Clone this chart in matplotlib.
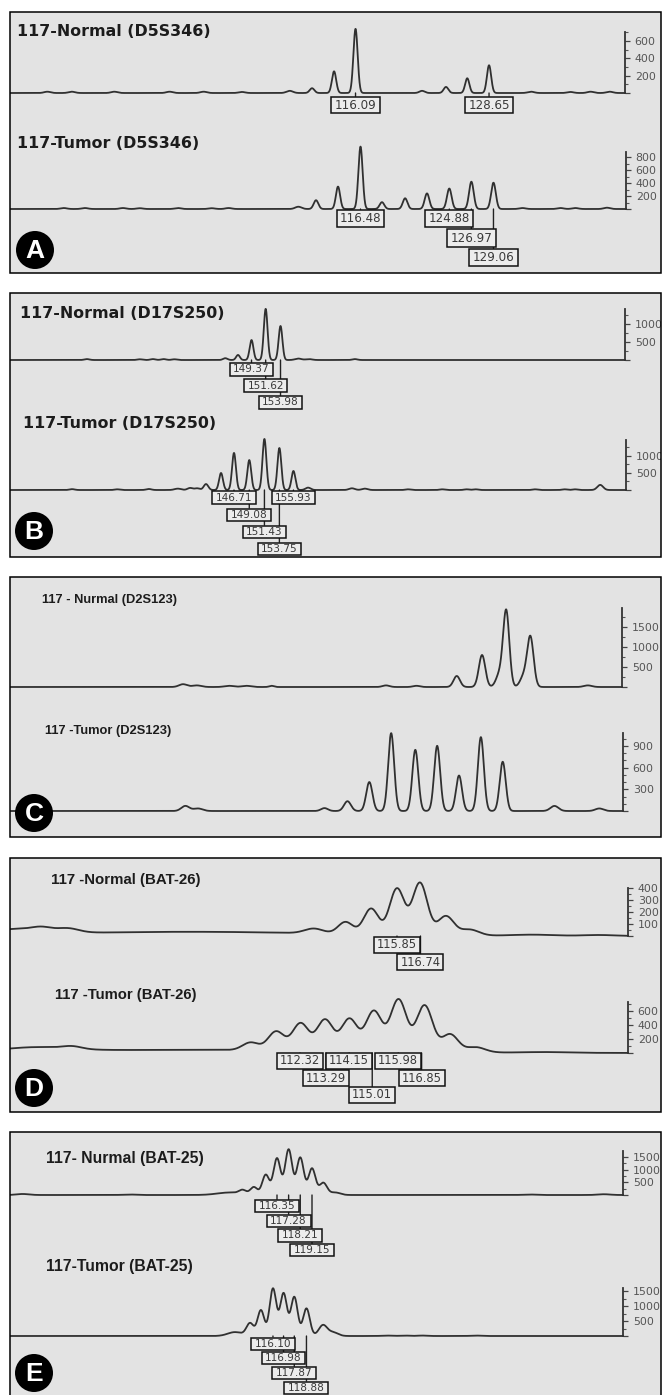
import numpy as np
import matplotlib
matplotlib.use("Agg")
import matplotlib.pyplot as plt
from matplotlib.patches import Rectangle, Ellipse
from matplotlib.ticker import MultipleLocator, FuncFormatter

# ======================= DATA =======================
# Panel A - D5S346 (size in bp, height in RFU, peak width in bp)
A_N_BP  = [87.1, 89.4, 93.4, 98.6, 101.8, 105.4, 109.9, 112.0, 114.07, 116.09, 122.35, 124.6, 126.6, 128.65, 132.6, 136.3, 138.2, 140.0]
A_N_RFU = [15, 15, 15, 15, 15, 12, 25, 55, 250, 740, 25, 70, 170, 320, 15, 12, 15, 15]
A_N_WID = [0.3, 0.3, 0.3, 0.3, 0.3, 0.3, 0.3, 0.22, 0.2, 0.2, 0.25, 0.22, 0.2, 0.2, 0.3, 0.3, 0.3, 0.3]
A_N_LABELS = ["116.09", "128.65"]
A_N_ROWS = [0, 0]

A_T_BP  = [88.4, 90.4, 94.0, 95.6, 99.2, 102.4, 104.0, 110.6, 112.27, 114.35, 116.48, 118.51, 120.7, 122.77, 124.88, 126.97, 129.06, 131.8, 135.4, 136.8, 139.8]
A_T_RFU = [15, 15, 15, 12, 15, 12, 15, 35, 135, 345, 960, 105, 165, 240, 315, 420, 405, 15, 15, 15, 20]
A_T_WID = [0.3, 0.3, 0.3, 0.3, 0.3, 0.3, 0.3, 0.3, 0.22, 0.2, 0.2, 0.22, 0.22, 0.22, 0.22, 0.22, 0.22, 0.3, 0.3, 0.3, 0.3]
A_T_LABELS = ["116.48", "124.88", "126.97", "129.06"]
A_T_ROWS = [0, 0, 1, 2]

# Panel B - D17S250
B_N_BP  = [123.2, 131.6, 133.7, 135.4, 137.1, 145.2, 147.22, 149.37, 151.62, 153.98, 156.8, 158.5, 165.8]
B_N_RFU = [25, 20, 25, 25, 20, 50, 140, 555, 1420, 945, 40, 25, 25]
B_N_WID = [0.4, 0.4, 0.4, 0.4, 0.4, 0.35, 0.3, 0.3, 0.3, 0.3, 0.5, 0.5, 0.4]
B_N_LABELS = ["149.37", "151.62", "153.98"]
B_N_ROWS = [0, 1, 2]

B_T_BP  = [121.6, 128.6, 133.5, 138.0, 139.9, 141.0, 142.37, 144.7, 146.71, 149.08, 151.43, 153.75, 155.93, 158.2, 165.0, 167.0, 173.7, 179.0, 182.8, 184.2, 193.4, 198.0, 199.6, 203.5]
B_T_RFU = [25, 20, 30, 40, 60, 50, 175, 500, 1090, 880, 1500, 1235, 560, 70, 50, 40, 20, 20, 20, 20, 20, 20, 20, 150]
B_T_WID = [0.4, 0.4, 0.4, 0.5, 0.4, 0.4, 0.35, 0.3, 0.3, 0.3, 0.3, 0.3, 0.3, 0.4, 0.45, 0.45, 0.4, 0.4, 0.4, 0.4, 0.4, 0.4, 0.4, 0.45]
B_T_LABELS = ["146.71", "155.93", "149.08", "151.43", "153.75"]
B_T_ROWS = [0, 0, 1, 2, 3]

# Panel C - D2S123 (no size labels)
C_N_BP  = [184.0, 185.2, 188.0, 189.5, 191.7, 201.65, 204.3, 207.8, 210.0, 211.5, 212.1, 213.6, 214.2, 219.2]
C_N_RFU = [70, 40, 30, 30, 30, 40, 30, 275, 800, 300, 1900, 250, 1250, 40]
C_N_WID = [0.35, 0.4, 0.4, 0.4, 0.2, 0.3, 0.3, 0.28, 0.28, 0.3, 0.27, 0.3, 0.28, 0.35]

C_T_BP  = [184.2, 185.3, 196.3, 198.3, 200.2, 202.1, 204.2, 206.1, 208.0, 209.9, 211.8, 216.3, 220.2]
C_T_RFU = [70, 35, 40, 135, 400, 1075, 845, 900, 490, 1020, 680, 70, 35]
C_T_WID = [0.35, 0.4, 0.3, 0.3, 0.27, 0.26, 0.26, 0.26, 0.26, 0.26, 0.26, 0.35, 0.35]

# Panel D - BAT-26
D_N_BP  = [101.5, 102.4, 103.4, 108.0, 112.7, 113.9, 114.87, 115.85, 116.72, 117.7, 118.6, 121.0, 123.5]
D_N_RFU = [45, 25, 30, 35, 40, 100, 215, 385, 435, 160, 50, 10, 8]
D_N_WID = [1.2, 0.35, 0.4, 5.0, 0.35, 0.28, 0.28, 0.28, 0.28, 0.3, 0.35, 0.8, 0.6]
D_N_LABELS = ["115.85", "116.74"]
D_N_ROWS = [0, 1]

D_T_BP  = [102.5, 103.83, 108.0, 110.48, 111.43, 112.34, 113.25, 114.16, 115.07, 115.99, 116.96, 117.91, 118.86, 121.5]
D_T_RFU = [55, 35, 45, 110, 270, 390, 445, 460, 575, 745, 665, 255, 75, 10]
D_T_WID = [1.2, 0.35, 6.0, 0.3, 0.3, 0.3, 0.3, 0.3, 0.3, 0.3, 0.3, 0.3, 0.35, 0.8]
D_T_LABELS = ["112.32", "114.15", "115.98", "113.29", "116.85", "115.01"]
D_T_ROWS = [0, 0, 0, 1, 1, 2]

# Panel E - BAT-25
E_N_BP  = [96.0, 104.5, 112.6, 113.6, 114.5, 115.45, 116.35, 117.28, 118.21, 119.15, 120.05, 121.0, 136.5, 142.5]
E_N_RFU = [40, 20, 100, 150, 300, 800, 1450, 1800, 1480, 1050, 480, 100, 20, 30]
E_N_WID = [0.5, 0.5, 1.0, 0.28, 0.28, 0.28, 0.28, 0.28, 0.28, 0.28, 0.3, 0.4, 0.5, 0.5]
E_N_LABELS = ["116.35", "117.28", "118.21", "119.15"]
E_N_ROWS = [0, 1, 2, 3]

E_T_BP  = [112.95, 114.2, 115.1, 116.10, 116.98, 117.87, 118.88, 120.25, 121.1, 125.5, 127.0, 128.5, 132.9]
E_T_RFU = [130, 420, 860, 1580, 1420, 1300, 920, 360, 120, 15, 15, 15, 15]
E_T_WID = [0.6, 0.3, 0.28, 0.28, 0.28, 0.28, 0.28, 0.35, 0.4, 0.4, 0.4, 0.4, 0.4]
E_T_LABELS = ["116.10", "116.98", "117.87", "118.88"]
E_T_ROWS = [0, 1, 2, 3]

# ======================= LAYOUT / STYLE =======================
W, H = 664, 1395
fig = plt.figure(figsize=(W / 100, H / 100), dpi=100)
fig.patch.set_facecolor("white")

PANEL_BG = "#e3e3e3"
TRACE_C = "#303030"
ARIAL = ["Liberation Sans", "DejaVu Sans"]
DV = ["DejaVu Sans"]


def fx(x):
    return x / W


def fy(y):
    return 1 - y / H


def add_panel(y_top, y_bot, letter, cx, cy):
    fig.add_artist(Rectangle((fx(10), fy(y_bot)), fx(661) - fx(10), fy(y_top) - fy(y_bot),
                             transform=fig.transFigure, fc=PANEL_BG, ec="none", zorder=-5))
    fig.add_artist(Rectangle((fx(10), fy(y_bot)), fx(661) - fx(10), fy(y_top) - fy(y_bot),
                             transform=fig.transFigure, fc="none", ec="black", lw=1.1, zorder=9))
    fig.add_artist(Ellipse((fx(cx), fy(cy)), 38 / W, 38 / H, transform=fig.transFigure,
                           fc="black", ec="none", zorder=10))
    fig.text(fx(cx), fy(cy + 1), letter, color="white", fontsize=19, fontweight="bold",
             family=ARIAL, ha="center", va="center", zorder=11)


def add_trace(bp, rfu, wid, x_px, y_px, xlim, ytop, major, minor,
              title, title_xy, title_font, title_size,
              labels=(), rows=(), gap=3, pitch=17, lfs=8.3, hpad=3.0, vpad=1.0):
    x0, x1 = x_px
    y0, y1 = y_px
    ax = fig.add_axes([fx(x0), fy(y0), fx(x1) - fx(x0), fy(y1) - fy(y0)])
    ax.set_xlim(*xlim)
    ax.set_ylim(0, ytop)
    ax.patch.set_visible(False)
    for s in ("left", "top", "bottom"):
        ax.spines[s].set_visible(False)
    ax.spines["right"].set_linewidth(1.3)
    ax.spines["right"].set_color("#333333")
    ax.set_xticks([])
    ax.yaxis.tick_right()
    ax.yaxis.set_major_locator(MultipleLocator(major))
    ax.yaxis.set_minor_locator(MultipleLocator(minor))
    ax.yaxis.set_major_formatter(FuncFormatter(lambda v, p: "" if v <= 0 else f"{v:.0f}"))
    ax.tick_params(axis="y", which="major", direction="out", length=3.5, width=0.9,
                   color="#444444", labelcolor="#555555", labelsize=7.9, pad=3.5)
    ax.tick_params(axis="y", which="minor", direction="out", length=2, width=0.8, color="#555555")

    x = np.linspace(xlim[0], xlim[1], 5000)
    y = np.zeros_like(x)
    for b, h, w in zip(bp, rfu, wid):
        y += h * np.exp(-0.5 * ((x - b) / w) ** 2)
    ax.plot(x, y, color=TRACE_C, lw=1.3, clip_on=False, solid_joinstyle="round", zorder=3)

    fig.text(fx(title_xy[0]), fy(title_xy[1]), title, fontsize=title_size, fontweight="bold",
             family=title_font, color="#1c1c1c", ha="left", va="center")

    em_px = lfs * 100 / 72
    pad = hpad / em_px
    asp = vpad / hpad
    order = sorted(range(len(labels)), key=lambda i: -rows[i])
    for i in order:
        lab, r = labels[i], rows[i]
        ax.annotate(lab, xy=(float(lab), 0), xycoords="data",
                    xytext=(0, -(gap + vpad + r * pitch)), textcoords="offset pixels",
                    ha="center", va="top", fontsize=lfs, color="#3a3a3a",
                    family="DejaVu Sans",
                    bbox=dict(boxstyle=f"square,pad={pad:.3f}", mutation_aspect=asp,
                              fc="#ececec", ec="#111111", lw=1.1),
                    arrowprops=dict(arrowstyle="-", color="#222222", lw=1.0,
                                    shrinkA=0, shrinkB=0, relpos=(0.5, 1.0)),
                    annotation_clip=False, zorder=4)
    return ax


# ---- panels ----
add_panel(12, 273, "A", 35, 250)
add_panel(293, 557, "B", 34, 531)
add_panel(577, 837, "C", 34, 813)
add_panel(858, 1112, "D", 34, 1088)
add_panel(1132, 1402, "E", 34, 1373)

add_trace(A_N_BP, A_N_RFU, A_N_WID, (11, 625), (93, 32), (83.68, 141.44), 704, 200, 100,
          "117-Normal (D5S346)", (17, 32), DV, 11.4, A_N_LABELS, A_N_ROWS,
          gap=4, pitch=19, lfs=8.6, hpad=3.2, vpad=1.6)
add_trace(A_T_BP, A_T_RFU, A_T_WID, (11, 626), (209, 152), (83.41, 141.6), 877, 200, 100,
          "117-Tumor (D5S346)", (17, 143), DV, 11.4, A_T_LABELS, A_T_ROWS,
          gap=1, pitch=19.5, lfs=8.6, hpad=3.2, vpad=2.0)

add_trace(B_N_BP, B_N_RFU, B_N_WID, (11, 625), (360, 309), (111.13, 208.75), 1417, 500, 250,
          "117-Normal (D17S250)", (20, 314), DV, 11.4, B_N_LABELS, B_N_ROWS,
          gap=3, pitch=16.5, lfs=7.6, hpad=3.5, vpad=1.3)
add_trace(B_T_BP, B_T_RFU, B_T_WID, (11, 626), (490, 440), (112.13, 207.5), 1470, 500, 250,
          "117-Tumor (D17S250)", (23, 423), DV, 11.4, B_T_LABELS, B_T_ROWS,
          gap=1.5, pitch=17.1, lfs=7.6, hpad=3.5, vpad=1.3)

add_trace(C_N_BP, C_N_RFU, C_N_WID, (11, 622), (687, 608), (169.04, 222.17), 1975, 500, 250,
          "117 - Nurmal (D2S123)", (42, 600), ARIAL, 9.3)
add_trace(C_T_BP, C_T_RFU, C_T_WID, (11, 623), (811, 733), (169.04, 222.26), 1077, 300, 100,
          "117 -Tumor (D2S123)", (45, 731), ARIAL, 9.3)

add_trace(D_N_BP, D_N_RFU, D_N_WID, (11, 628), (936, 888), (101.23, 124.6), 400, 100, 50,
          "117 -Normal (BAT-26)", (51, 880), ARIAL, 10.8, D_N_LABELS, D_N_ROWS,
          gap=1, pitch=17, lfs=8.3, hpad=3.0, vpad=1.5)
add_trace(D_T_BP, D_T_RFU, D_T_WID, (11, 628), (1053, 1002), (101.55, 124.54), 729, 200, 100,
          "117 -Tumor (BAT-26)", (55, 995), ARIAL, 10.7, D_T_LABELS, D_T_ROWS,
          gap=0, pitch=17, lfs=8.3, hpad=3.0, vpad=1.5)

add_trace(E_N_BP, E_N_RFU, E_N_WID, (11, 623), (1195, 1151), (95.07, 144.03), 1740, 500, 250,
          "117- Nurmal (BAT-25)", (46, 1158), ARIAL, 11.3, E_N_LABELS, E_N_ROWS,
          gap=5, pitch=14.7, lfs=7.6, hpad=3.6, vpad=1.1)
add_trace(E_T_BP, E_T_RFU, E_T_WID, (11, 623), (1336, 1288), (94.36, 145.15), 1600, 500, 250,
          "117-Tumor (BAT-25)", (46, 1267), ARIAL, 11.3, E_T_LABELS, E_T_ROWS,
          gap=1.5, pitch=14.7, lfs=7.6, hpad=3.6, vpad=1.1)

# white margin to hide overflow on the right edge
fig.add_artist(Rectangle((fx(661), 0), 1 - fx(661), 1, transform=fig.transFigure,
                         fc="white", ec="none", zorder=8))

fig.savefig("out.png", dpi=100, facecolor="white")
